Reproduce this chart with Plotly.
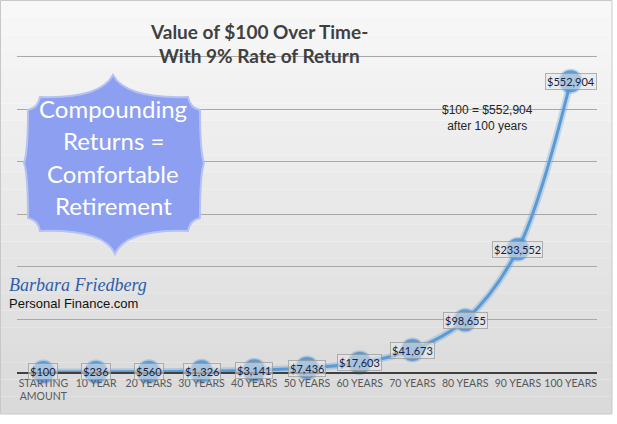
import plotly.graph_objects as go

categories = ["STARTING<br>AMOUNT", "10 YEAR", "20 YEARS", "30 YEARS", "40 YEARS",
              "50 YEARS", "60 YEARS", "70 YEARS", "80 YEARS", "90 YEARS", "100 YEARS"]
values = [100, 236, 560, 1326, 3141, 7436, 17603, 41673, 98655, 233552, 552904]
value_labels = ["$" + format(v, ",") for v in values]
title_lines = ["Value of $100 Over Time-", "With 9% Rate of Return"]
badge_lines = ["Compounding", "Returns =", "Comfortable", "Retirement"]

W, H = 617, 424
ML, MR, MT, MB = 17, 20, 4, 52
PW, PH = W - ML - MR, H - MT - MB


def px(x):
    return (x - ML) / PW


def py(y):
    return (H - MB - y) / PH


fig = go.Figure()

# glow under the line
fig.add_trace(go.Scatter(
    x=categories, y=values, mode="lines",
    line=dict(color="rgba(91,155,213,0.30)", width=7, shape="spline"),
    hoverinfo="skip", showlegend=False, cliponaxis=False))
fig.add_trace(go.Scatter(
    x=categories, y=values, mode="lines+markers",
    line=dict(color="#5b9bd5", width=3, shape="spline"),
    marker=dict(size=22, color="rgba(81,145,210,0.88)",
                line=dict(color="rgba(91,155,213,0.35)", width=3)),
    showlegend=False, cliponaxis=False))

# data labels
for c, v, t in zip(categories, values, value_labels):
    fig.add_annotation(x=c, y=v, text=t, showarrow=False,
                       font=dict(family="Lato", size=11, color="#18233d"),
                       bgcolor="rgba(232,232,232,0.55)",
                       bordercolor="rgba(150,150,150,0.7)", borderwidth=1, borderpad=1)

# background gradient (paper)
n = 24
top, bot = 0, 414
for i in range(n):
    y0 = top + (bot - top) * i / n
    y1 = top + (bot - top) * (i + 1) / n
    f = i / (n - 1)
    g = int(248 - f * 30)
    fig.add_shape(type="rect", xref="paper", yref="paper", layer="below",
                  x0=px(0), x1=px(612), y0=py(y1), y1=py(y0),
                  fillcolor=f"rgb({g},{g},{g})", line=dict(width=0))
fig.add_shape(type="rect", xref="paper", yref="paper", layer="below",
              x0=px(0.5), x1=px(612), y0=py(414), y1=py(0.5),
              fillcolor="rgba(0,0,0,0)", line=dict(color="#c8c8c8", width=1))

# scalloped badge
path = (f"M {px(40)},{py(97)} "
        f"Q {px(100)},{py(99)} {px(113)},{py(75)} "
        f"Q {px(126)},{py(99)} {px(188)},{py(97)} "
        f"Q {px(190)},{py(108)} {px(200)},{py(110)} "
        f"Q {px(200)},{py(152)} {px(204)},{py(163)} "
        f"Q {px(200)},{py(174)} {px(200)},{py(218)} "
        f"Q {px(190)},{py(220)} {px(188)},{py(231)} "
        f"Q {px(126)},{py(229)} {px(115)},{py(254)} "
        f"Q {px(104)},{py(229)} {px(40)},{py(231)} "
        f"Q {px(38)},{py(220)} {px(28)},{py(218)} "
        f"Q {px(28)},{py(174)} {px(24)},{py(163)} "
        f"Q {px(28)},{py(152)} {px(28)},{py(110)} "
        f"Q {px(38)},{py(108)} {px(40)},{py(97)} Z")
fig.add_shape(type="path", xref="paper", yref="paper", path=path,
              fillcolor="#8c9ff0", line=dict(color="#b6c2f2", width=2), layer="above")

for i, t in enumerate(badge_lines):
    fig.add_annotation(xref="paper", yref="paper", x=px(113), y=py(108 + i * 32.5),
                       text=t, showarrow=False, xanchor="center", yanchor="middle",
                       font=dict(family="Lato", size=24, color="white"))

# title (two lines)
for i, t in enumerate(title_lines):
    fig.add_annotation(xref="paper", yref="paper", x=px(259), y=py(31 + i * 24),
                       text="<b>" + t + "</b>", showarrow=False, xanchor="center",
                       yanchor="middle", font=dict(family="Lato", size=19, color="#404040"))

# watermark
fig.add_annotation(xref="paper", yref="paper", x=px(7), y=py(285), xanchor="left",
                   yanchor="middle", showarrow=False, text="<i>Barbara Friedberg</i>",
                   font=dict(family="Liberation Serif", size=18, color="#2f5ea8"))
fig.add_annotation(xref="paper", yref="paper", x=px(7), y=py(303), xanchor="left",
                   yanchor="middle", showarrow=False, text="Personal Finance.com",
                   font=dict(family="Liberation Sans", size=13, color="#111111"))

# note
fig.add_annotation(xref="paper", yref="paper", x=px(487), y=py(118), xanchor="center",
                   yanchor="middle", showarrow=False,
                   text="$100 = $552,904<br>after 100 years",
                   font=dict(family="Liberation Sans", size=12, color="#262626"))

fig.update_layout(
    width=W, height=H,
    margin=dict(l=ML, r=MR, t=MT, b=MB, autoexpand=False),
    paper_bgcolor="white", plot_bgcolor="rgba(0,0,0,0)",
    xaxis=dict(type="category", range=[-0.5, 10.5], showgrid=False, automargin=False,
               showline=True, linecolor="#404040", linewidth=2, tickangle=0,
               tickfont=dict(family="Lato", size=10.5, color="#595959"),
               ticks="", ticklen=0),
    yaxis=dict(range=[0, 700000], dtick=100000, showticklabels=False, automargin=False,
               showgrid=True, gridcolor="#a8a8a8", gridwidth=1, zeroline=False),
)

fig.write_html("out.html", config={"displayModeBar": False},
               post_script="document.body.style.margin='0';")
